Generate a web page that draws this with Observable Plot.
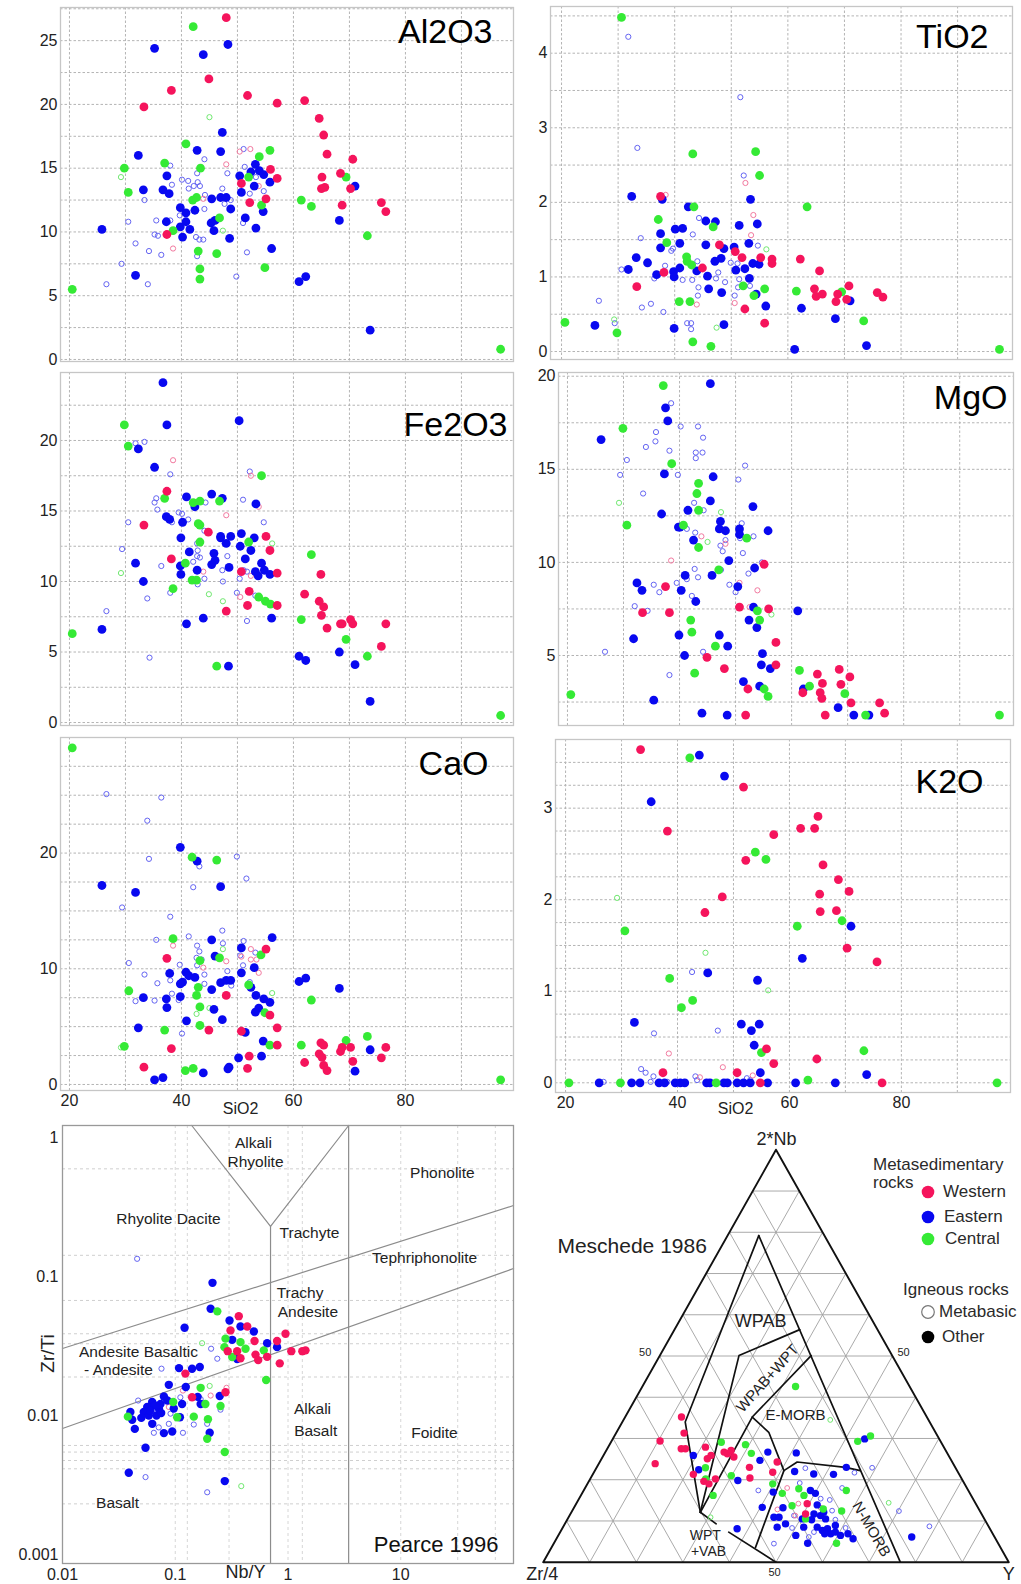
<!DOCTYPE html>
<html><head><meta charset="utf-8">
<script src="https://cdn.jsdelivr.net/npm/d3@7"></script>
<script src="https://cdn.jsdelivr.net/npm/@observablehq/plot@0.6"></script>
<style>
body{margin:0;background:#fff;}
#root{position:relative;width:1021px;height:1584px;background:#fff;overflow:hidden;font-family:"Liberation Sans",Arial,sans-serif;}
.lg{position:absolute;font-size:17px;line-height:20px;color:#2a2a2a;white-space:nowrap;}
</style></head>
<body><div id="root"></div>
<script>
const FONT = '"Liberation Sans", Arial, sans-serif';
const COLORS = {W:"#f5145c", E:"#0808f0", C:"#35ea35"};
const HOLLOW = {W:"#f27aa0", E:"#6464f2", C:"#70e870"};
const GRID = "#b4b4b4";
const SIO2_GRID = [20,30,40,50,60,70,80,90];
const SIO2_TICKS = [20,40,60,80];

// ---------- Al2O3 ----------
const AL_W = [[48.0,26.8],[44.9,22.0],[38.2,21.1],[33.3,19.8],[51.8,20.7],[57.1,20.1],[62.0,20.3],[64.6,18.9],[65.4,17.6],[66.0,16.1],[70.6,15.7],[68.4,14.6],[65.1,14.3],[65.0,13.4],[65.6,13.5],[70.2,13.4],[68.7,12.1],[75.7,12.3],[76.5,11.6],[55.9,14.9],[57.1,14.2],[50.7,13.8],[52.2,12.3],[55.1,12.6],[37.4,9.8]];
const AL_E = [[35.2,24.4],[43.9,23.9],[48.3,24.7],[47.3,17.8],[47.0,16.3],[42.8,16.4],[32.3,16.0],[37.4,14.4],[33.2,13.3],[36.7,13.3],[37.8,13.0],[37.3,10.8],[25.8,10.2],[39.8,11.9],[40.8,11.5],[42.4,11.7],[39.8,10.4],[40.8,10.8],[41.5,10.2],[40.2,9.6],[45.4,12.6],[47.0,12.7],[48.0,12.7],[48.8,11.8],[45.3,10.7],[46.0,10.9],[45.8,10.1],[48.6,9.5],[50.4,14.4],[50.7,13.1],[51.4,11.1],[52.4,14.7],[53.2,15.3],[53.9,14.8],[54.7,14.5],[53.0,13.6],[55.8,13.9],[54.6,11.6],[53.3,10.3],[56.1,8.7],[31.8,6.6],[61.0,6.1],[62.2,6.5],[68.2,10.9],[71.0,13.6],[73.7,2.3]];
const AL_C = [[42.1,26.1],[29.8,15.0],[30.5,13.1],[37.0,15.4],[40.8,16.9],[43.4,15.0],[42.0,12.5],[42.7,12.7],[38.5,10.1],[46.8,11.1],[43.0,8.5],[43.3,7.1],[43.3,6.3],[46.3,8.3],[52.0,14.3],[53.9,15.9],[55.8,16.4],[54.3,12.1],[54.9,7.2],[61.4,12.5],[63.2,12.0],[69.4,14.3],[73.2,9.7],[20.5,5.5],[97.0,0.8]];
const AL_mE = [[26.6,5.9],[29.3,7.5],[31.8,9.1],[30.5,10.8],[33.4,12.5],[34.2,8.5],[34.0,5.9],[36.4,8.2],[35.5,10.9],[35.2,9.8],[35.8,9.7],[38.0,15.2],[38.3,13.7],[38.0,10.9],[40.1,14.1],[41.2,14.0],[42.2,13.6],[41.3,13.4],[42.8,14.6],[42.9,13.9],[43.3,13.6],[44.1,15.7],[44.2,12.9],[44.1,11.8],[39.7,11.3],[42.6,9.6],[43.2,9.4],[43.9,9.4],[42.8,8.1],[47.3,13.4],[47.7,12.2],[48.8,12.5],[48.2,14.6],[51.0,10.7],[51.3,15.1],[51.1,16.5],[52.2,13.0],[53.3,14.3],[54.7,13.2],[51.7,8.4],[49.8,6.5]];
const AL_mW = [[50.4,16.3],[52.3,16.5],[48.0,15.3],[43.9,12.6],[53.8,13.6],[38.5,8.7]];
const AL_mC = [[45.0,19.0],[29.2,14.3],[47.4,10.1]];

// ---------- TiO2 ----------
const TI_W = [[37.5,2.08],[47.9,1.43],[50.7,1.34],[51.9,1.26],[55.2,1.26],[57.2,1.24],[57.2,1.18],[62.2,1.24],[44.9,1.12],[38.1,1.06],[33.3,0.87],[65.6,1.08],[64.7,0.84],[65.0,0.74],[66.1,0.77],[70.8,0.88],[68.8,0.77],[68.5,0.67],[70.4,0.70],[75.8,0.79],[76.8,0.73],[52.4,0.57],[55.9,0.38]];
const TI_E = [[32.4,2.08],[37.8,2.04],[42.4,1.94],[45.5,1.75],[47.2,1.74],[53.4,2.04],[54.6,1.71],[51.4,1.69],[40.1,1.64],[41.4,1.65],[37.5,1.58],[40.9,1.45],[37.5,1.39],[45.5,1.43],[48.7,1.38],[50.5,1.40],[53.1,1.45],[33.2,1.26],[35.2,1.19],[31.8,1.10],[36.8,1.03],[39.8,1.07],[40.9,1.12],[39.9,1.00],[43.9,1.08],[47.1,1.21],[48.2,1.25],[45.8,1.01],[50.8,1.09],[52.4,1.11],[53.8,1.18],[54.9,1.17],[53.2,0.98],[46.0,0.84],[48.3,0.79],[54.4,0.77],[56.1,0.61],[62.4,0.58],[71.0,0.68],[68.4,0.44],[25.9,0.35],[39.9,0.31],[48.7,0.36],[61.2,0.03],[73.9,0.08]];
const TI_C = [[30.6,4.48],[43.2,2.65],[54.3,2.68],[55.0,2.36],[43.4,1.94],[37.1,1.77],[46.8,1.67],[38.6,1.46],[42.1,1.27],[42.2,1.21],[43.0,1.16],[40.8,0.67],[42.7,0.67],[52.1,0.88],[54.0,0.75],[55.9,0.84],[63.4,1.94],[61.5,0.81],[69.5,0.80],[73.4,0.41],[20.6,0.39],[29.8,0.25],[43.2,0.13],[46.4,0.07],[97.4,0.03]];
const TI_mE = [[31.8,4.22],[51.6,3.41],[33.4,2.73],[52.2,2.36],[44.3,1.79],[43.2,1.57],[34.0,1.52],[39.7,1.38],[39.4,1.35],[54.7,1.42],[38.3,1.15],[44.0,1.21],[49.9,1.19],[51.1,1.18],[30.6,1.10],[36.4,0.98],[41.4,0.96],[43.1,0.96],[47.7,1.06],[47.3,0.98],[48.9,0.93],[51.4,0.97],[44.2,0.86],[44.1,0.75],[50.6,0.75],[51.2,0.86],[53.3,0.88],[26.6,0.68],[34.2,0.59],[35.8,0.64],[38.0,0.53],[29.4,0.38],[42.2,0.38],[42.9,0.38],[42.9,0.30]];
const TI_mW = [[38.4,2.10],[52.5,2.26],[53.9,1.83],[53.5,1.56],[43.9,0.63],[50.6,0.65]];
const TI_mC = [[56.2,1.37],[29.3,0.43],[47.4,0.32]];

// ---------- Fe2O3 ----------
const FE_W = [[37.4,16.4],[33.3,14.0],[44.8,13.5],[38.2,11.6],[55.1,13.2],[55.8,12.2],[50.7,10.7],[57.1,10.6],[52.1,9.3],[51.8,8.3],[57.1,8.3],[48.0,7.9],[62.0,9.1],[64.9,10.5],[64.6,8.6],[65.4,8.2],[65.0,7.6],[66.0,6.7],[68.4,7.0],[68.7,7.0],[70.2,7.3],[70.6,7.0],[76.5,7.0],[75.7,5.4]];
const FE_E = [[36.7,24.1],[37.4,21.1],[50.3,21.4],[32.3,19.4],[35.2,18.1],[37.3,14.6],[37.9,14.4],[40.9,16.0],[42.4,15.3],[45.4,16.2],[47.3,15.9],[40.2,14.2],[39.9,13.1],[41.4,12.1],[42.8,10.8],[39.8,11.1],[39.9,10.5],[45.8,12.0],[46.0,11.5],[45.4,11.2],[47.0,13.2],[47.0,13.1],[48.8,13.2],[48.0,12.7],[48.5,11.0],[50.7,13.4],[50.5,12.5],[52.4,12.2],[51.4,11.6],[53.0,13.1],[53.3,15.5],[54.3,11.3],[53.2,10.7],[53.7,10.4],[54.8,10.8],[55.8,10.5],[31.8,11.3],[33.2,10.0],[25.8,6.6],[40.9,7.0],[43.9,7.4],[48.4,4.0],[56.1,7.4],[61.0,4.7],[62.2,4.4],[68.2,5.0],[71.0,4.1],[73.7,1.5]];
const FE_C = [[29.8,21.1],[30.5,19.6],[37.0,15.9],[42.1,15.6],[43.3,15.7],[46.8,15.7],[43.0,14.1],[43.3,14.0],[43.3,12.8],[40.7,11.3],[41.9,10.1],[42.7,10.1],[38.5,9.5],[52.0,12.8],[54.3,17.5],[53.8,8.9],[55.0,8.6],[55.9,8.4],[46.3,4.0],[63.2,11.9],[61.4,7.3],[69.4,5.9],[73.2,4.7],[20.5,6.3],[97.0,0.5]];
const FE_mE = [[31.8,19.8],[33.4,19.9],[38.0,17.6],[35.5,15.9],[35.2,15.6],[35.7,15.1],[30.5,14.2],[38.3,14.2],[39.5,14.9],[40.1,14.8],[41.2,14.4],[44.1,13.6],[42.8,12.7],[42.9,12.2],[42.1,11.4],[42.8,11.8],[43.3,11.7],[44.1,10.2],[42.9,9.8],[44.3,15.6],[51.0,15.8],[52.2,17.8],[48.2,11.8],[47.7,12.7],[47.3,10.8],[47.4,10.0],[50.4,10.2],[51.1,10.8],[51.7,10.7],[54.7,14.2],[29.4,12.3],[36.4,11.1],[38.0,9.2],[33.9,8.8],[26.6,7.9],[49.9,9.2],[53.2,9.0],[51.7,7.2],[34.3,4.6]];
const FE_mW = [[38.5,18.6],[52.4,17.5],[53.8,15.3],[48.0,14.7],[43.9,10.7],[52.4,10.4],[50.5,8.9]];
const FE_mC = [[29.2,10.6],[44.9,9.1],[47.4,8.6],[56.2,12.7]];

// ---------- MgO ----------
const MG_W = [[37.5,8.7],[33.4,7.3],[38.2,7.3],[50.7,7.6],[55.9,7.5],[55.1,9.9],[57.2,5.7],[57.2,4.5],[44.9,4.9],[48.0,4.3],[52.2,3.2],[51.8,1.8],[62.0,3.0],[64.6,4.0],[65.5,3.5],[65.1,3.0],[65.4,2.7],[68.5,4.25],[68.8,3.45],[70.4,3.85],[70.6,2.45],[66.0,1.8],[75.7,2.45],[76.6,1.9]];
const MG_E = [[45.5,19.6],[37.5,18.3],[37.9,17.6],[26.0,16.6],[37.3,14.75],[46.0,14.6],[45.5,13.3],[53.1,13.0],[36.8,12.6],[41.5,12.8],[47.3,12.2],[47.1,11.8],[48.2,11.7],[50.7,11.8],[50.7,11.5],[55.8,11.7],[39.8,11.9],[40.1,11.9],[42.5,11.2],[48.8,10.1],[53.4,9.7],[41.0,9.3],[45.8,9.3],[32.4,8.9],[33.3,8.5],[40.3,8.5],[50.4,8.7],[42.9,7.9],[53.2,7.6],[61.1,7.4],[52.4,6.9],[53.8,6.5],[31.8,5.9],[39.9,6.1],[47.1,6.1],[48.6,5.5],[40.9,5.0],[54.8,5.1],[54.6,4.5],[56.2,4.3],[51.4,3.6],[54.3,3.35],[62.1,3.2],[35.4,2.6],[44.0,1.9],[48.5,1.8],[68.3,2.2],[71.1,1.8],[73.8,1.8]];
const MG_C = [[37.1,19.5],[29.9,17.2],[38.6,15.3],[43.4,14.25],[43.1,13.7],[43.4,12.8],[30.6,12.0],[40.7,12.0],[43.4,10.8],[52.0,11.3],[47.0,9.6],[42.0,6.9],[42.2,6.25],[46.4,5.5],[42.7,4.05],[53.9,7.4],[54.3,6.9],[55.1,3.2],[55.8,2.8],[61.4,4.2],[63.2,3.35],[69.5,2.95],[20.6,2.9],[73.2,1.8],[97.1,1.8]];
const MG_mE = [[38.5,18.55],[40.2,17.3],[43.3,17.3],[35.8,17.0],[35.7,16.5],[44.2,16.7],[34.0,16.2],[38.2,16.0],[42.9,15.9],[44.1,15.9],[42.9,15.6],[30.6,15.5],[51.7,15.2],[29.4,14.7],[39.7,14.7],[50.5,14.45],[33.5,13.7],[42.6,13.2],[44.3,12.8],[51.1,12.1],[41.3,11.8],[42.8,11.6],[50.8,11.3],[53.2,11.4],[47.3,10.9],[47.7,10.6],[48.2,11.2],[51.3,10.5],[54.7,10.0],[42.7,9.65],[43.3,9.2],[47.4,9.6],[39.5,8.9],[41.3,9.1],[35.4,8.8],[36.4,8.4],[48.9,8.8],[50.0,8.4],[42.2,8.2],[52.3,9.4],[32.0,7.65],[34.3,7.4],[26.7,5.2],[44.2,5.2],[38.2,3.95]];
const MG_mW = [[38.5,10.1],[43.9,11.4],[48.2,11.0],[53.9,8.5],[52.5,7.6],[50.7,8.9]];
const MG_mC = [[29.2,13.2],[47.4,12.7],[45.0,11.1],[56.4,7.2]];

// ---------- CaO ----------
const CA_W = [[37.4,10.9],[55.1,11.7],[48.0,7.7],[55.8,6.0],[57.1,4.9],[50.7,4.6],[44.9,4.7],[38.2,3.1],[33.3,1.5],[51.8,1.4],[52.1,2.45],[57.1,3.4],[62.0,1.9],[64.9,3.6],[65.4,3.4],[64.6,2.65],[65.1,2.35],[65.4,1.65],[66.0,1.2],[68.4,2.85],[68.7,3.2],[70.2,3.2],[70.6,2.0],[76.5,3.2],[75.7,2.3]];
const CA_E = [[39.8,20.5],[42.8,19.3],[47.0,17.1],[25.8,17.2],[31.8,16.6],[45.4,12.5],[56.2,12.7],[50.7,11.8],[46.0,11.1],[53.0,10.1],[50.7,9.65],[37.9,9.6],[40.8,9.7],[41.3,9.4],[42.4,9.25],[40.2,8.85],[39.8,8.7],[47.0,8.8],[48.0,9.0],[48.8,9.0],[45.4,8.2],[52.4,8.4],[53.3,7.7],[54.7,7.4],[55.8,7.1],[33.2,7.5],[37.3,7.4],[37.4,6.65],[39.8,7.6],[45.8,6.5],[53.8,6.6],[53.2,6.25],[47.3,5.6],[40.9,5.5],[32.3,4.9],[51.4,4.5],[54.6,3.75],[54.3,2.45],[50.2,2.3],[48.5,1.5],[48.3,1.35],[43.9,1.0],[35.2,0.4],[36.7,0.6],[61.0,8.9],[62.2,9.2],[68.2,8.3],[73.7,3.0],[71.0,1.15]];
const CA_C = [[20.5,29.1],[41.9,19.65],[46.3,19.4],[38.5,12.6],[46.8,10.95],[43.3,10.7],[43.0,8.4],[42.7,7.7],[43.3,6.7],[43.3,5.1],[30.6,8.1],[37.0,4.7],[29.8,3.3],[40.7,1.2],[42.1,1.4],[52.0,8.6],[54.2,11.2],[54.9,6.2],[55.8,3.4],[61.4,3.4],[63.2,7.3],[69.4,3.8],[73.2,4.15],[97.0,0.4]];
const CA_mE = [[26.6,25.1],[36.4,24.8],[33.9,22.8],[34.2,19.5],[43.2,18.85],[49.9,19.7],[51.6,17.8],[42.1,17.05],[29.4,15.3],[38.0,14.5],[35.5,12.5],[41.3,12.8],[47.3,13.3],[47.4,12.2],[42.8,12.0],[43.2,11.5],[42.7,10.95],[43.6,10.8],[42.8,10.3],[51.1,12.4],[50.5,11.15],[51.0,10.3],[53.2,11.4],[39.7,10.35],[30.6,10.5],[33.4,9.5],[35.7,8.75],[38.0,9.0],[44.1,9.5],[44.1,8.7],[48.2,9.8],[48.9,8.55],[52.2,8.85],[38.3,7.85],[39.5,7.3],[31.8,7.2],[35.2,7.25],[40.1,4.4]];
const CA_mW = [[38.5,12.0],[52.4,11.7],[43.9,10.1],[48.0,10.65],[50.7,11.05],[52.4,10.8],[53.4,10.8],[53.8,9.65]];
const CA_mC = [[29.2,3.2],[42.7,6.1],[45.0,6.6],[47.4,11.7],[56.2,7.9]];

// ---------- K2O ----------
const K_W = [[33.4,3.64],[38.2,2.75],[51.8,3.23],[52.2,2.43],[57.2,2.71],[48.0,2.03],[44.9,1.86],[62.0,2.78],[64.5,2.78],[65.1,2.91],[66.0,2.38],[68.75,2.22],[70.65,2.09],[65.4,2.06],[65.5,1.87],[68.4,1.88],[70.3,1.47],[75.65,1.32],[55.9,0.37],[57.2,0.21],[64.9,0.26],[50.65,0.11],[37.4,0.11],[76.55,0.0],[54.8,0.0]];
const K_E = [[43.9,3.58],[48.4,3.35],[35.3,3.07],[71.0,1.71],[62.3,1.36],[45.4,1.2],[54.3,1.12],[32.3,0.66],[51.4,0.64],[54.6,0.64],[53.2,0.57],[53.7,0.41],[54.8,0.11],[73.8,0.09],[26.0,0],[31.8,0],[33.3,0],[36.7,0],[37.7,0],[39.6,0],[40.5,0],[41.3,0],[45.2,0],[45.8,0],[48.3,0],[48.9,0],[50.65,0],[51.8,0],[53.0,0],[56.1,0],[61.1,0],[68.2,0]];
const K_C = [[42.2,3.55],[53.9,2.52],[55.8,2.44],[30.6,1.66],[61.4,1.71],[69.4,1.77],[38.6,1.14],[42.7,0.9],[40.7,0.82],[55.0,0.33],[73.3,0.35],[20.6,0.0],[29.8,0.0],[63.3,0.03],[46.9,0.0],[97.1,0.0]];
const K_mE = [[35.8,0.54],[47.2,0.57],[42.6,1.21],[33.5,0.15],[34.3,0.11],[35.7,0.07],[43.2,0.07],[35.2,0.01],[26.8,0.01],[43.5,0.03],[53.0,0.03],[52.4,0.05],[38.2,0.01]];
const K_mW = [[38.45,0.32],[48.1,0.17],[53.45,0.08],[44.0,0.06]];
const K_mC = [[29.2,2.02],[45.0,1.42],[56.2,1.01]];

// ---------- Pearce 1996 (Nb/Y, Zr/Ti) ----------
const PE_E = [[0.214,0.090],[0.206,0.0586],[0.121,0.0428],[0.303,0.0482],[0.379,0.0436],[0.498,0.0402],[0.320,0.035],[0.653,0.0331],[0.80,0.031],[0.354,0.0255],[0.108,0.0219],[0.141,0.0217],[0.165,0.0223],[0.0877,0.0166],[0.124,0.016],[0.0793,0.0137],[0.074,0.0121],[0.0624,0.0125],[0.0564,0.0115],[0.0526,0.0106],[0.0583,0.010],[0.0682,0.010],[0.0716,0.0112],[0.040,0.0106],[0.0415,0.0093],[0.0438,0.0080],[0.0625,0.0087],[0.0793,0.00746],[0.094,0.00767],[0.110,0.0097],[0.115,0.0121],[0.097,0.0112],[0.158,0.0136],[0.168,0.0121],[0.248,0.0138],[0.202,0.0075],[0.0545,0.00585],[0.0387,0.00387],[0.275,0.00337],[0.066,0.0118],[0.060,0.0108],[0.075,0.0104],[0.085,0.0128],[0.050,0.0096]];
const PE_W = [[0.366,0.0518],[0.309,0.0409],[0.435,0.0436],[0.505,0.0343],[0.292,0.029],[0.354,0.029],[0.379,0.0258],[0.515,0.0274],[0.544,0.025],[0.653,0.0264],[0.80,0.0343],[0.95,0.0387],[1.07,0.029],[1.34,0.029],[1.43,0.0294],[0.845,0.0237],[0.123,0.020],[0.141,0.0135],[0.279,0.0147]];
const PE_C = [[0.236,0.0561],[0.279,0.0357],[0.379,0.0337],[0.420,0.0302],[0.273,0.031],[0.61,0.0294],[0.320,0.0263],[0.64,0.018],[0.168,0.0158],[0.096,0.0125],[0.185,0.0121],[0.252,0.0117],[0.146,0.0098],[0.104,0.0097],[0.038,0.0098],[0.195,0.0094],[0.192,0.0068],[0.275,0.00545]];
const PE_mE = [[0.0459,0.134],[0.208,0.0302],[0.236,0.0256],[0.0755,0.0217],[0.0469,0.0128],[0.0646,0.0112],[0.0908,0.0103],[0.0714,0.0082],[0.0877,0.0087],[0.0646,0.0075],[0.117,0.0075],[0.146,0.0086],[0.192,0.0087],[0.252,0.011],[0.111,0.0135],[0.168,0.0131],[0.0519,0.0098],[0.0545,0.0036],[0.192,0.0028]];
const PE_mW = [[0.285,0.0158],[0.206,0.0139],[0.117,0.0151],[0.0877,0.0115]];
const PE_mC = [[0.173,0.0331],[0.202,0.0163],[0.385,0.0031]];
const PE_BOUNDS = [
  {id:"upper", pts:[[0.01,0.0303],[100,0.324]]},
  {id:"lower", pts:[[0.01,0.00806],[100,0.114]]},
  {id:"vee", pts:[[0.14,1.22],[0.7,0.229],[3.45,1.22]]},
  {id:"alk", pts:[[0.7,0.229],[0.7,0.00086]]},
  {id:"foid", pts:[[3.45,1.22],[3.45,0.00086]]}
];
const PE_GRID_Y = [0.595,0.142,0.0672,0.0387,0.0328,0.0189,0.00608,0.00545,0.00474,0.00413,0.00231];
const PE_GRID_X = [0.1,0.128,0.3,1,1.34,10,32,69];
const PE_LABELS = [
  ["Alkali",0.494,0.905],["Rhyolite",0.515,0.661],["Phonolite",23.4,0.551],["Rhyolite Dacite",0.0871,0.257],
  ["Trachyte",1.55,0.204],["Tephriphonolite",16.3,0.135],["Trachy",1.28,0.0755],["Andesite",1.5,0.0551],
  ["Andesite Basaltic",0.0472,0.0284],["- Andesite",0.0314,0.0211],["Alkali",1.65,0.0112],["Basalt",1.76,0.00767],
  ["Foidite",19.9,0.00743],["Basalt",0.0308,0.00233]
];

// ---------- Meschede 1986 ternary: [2*Nb %, Y %] ----------
const TE_W = [[35.2,12.1],[31.3,14.6],[29.4,10.4],[27.5,15.9],[27.5,16.8],[23.9,12.1],[21.3,21.6],[19.6,24.7],[19.0,26.1],[20.2,26.9],[27.9,20.9],[25.1,22.7],[25.9,23.1],[26.3,26.4],[27.1,26.8],[26.7,25.5],[25.5,28.2],[23.0,32.8],[20.4,34.2],[21.8,38.4],[24.3,38.1],[14.2,49.6],[11.7,50.5]];
const TE_E = [[25.9,19.3],[22.4,22.2],[19.8,31.9],[24.7,34.2],[26.7,34.9],[26.5,41.1],[22.0,43.0],[21.4,47.4],[21.3,51.7],[23.0,53.6],[29.9,54.1],[17.0,40.9],[13.2,44.9],[13.3,40.4],[10.9,44.1],[10.9,45.2],[8.5,46.0],[9.3,47.4],[6.5,51.0],[4.6,54.5],[8.1,37.6],[17.4,48.7],[16.7,50.1],[11.7,52.3],[11.3,53.9],[10.5,55.4],[8.5,54.6],[7.7,56.1],[8.1,57.0],[6.9,58.3],[7.3,59.1],[6.9,57.0],[8.9,58.3],[8.5,51.7],[10.5,50.4],[10.3,52.5],[6.9,62.0],[5.7,63.7],[6.5,60.6],[6.1,76.1],[13.9,51.9],[12.1,54.2]];
const TE_C = [[42.6,32.9],[30.6,55.0],[29.3,52.9],[29.1,23.7],[28.5,29.2],[26.4,31.5],[22.9,23.4],[20.2,24.8],[21.0,29.9],[16.2,28.4],[19.0,39.8],[16.7,43.0],[17.8,46.0],[16.2,47.9],[13.7,46.6],[12.9,53.7],[12.4,57.9],[17.4,56.4],[10.5,51.1],[4.6,60.7]];
const TE_mE = [[22.8,44.9],[21.7,56.0],[22.9,59.2],[17.4,37.5],[19.2,45.5],[15.4,51.9],[15.1,54.0],[18.0,55.2],[4.5,47.3],[8.3,49.3],[6.1,54.0],[12.4,70.2],[8.7,78.6],[11.3,48.2],[10.3,57.6],[8.3,60.8],[7.3,54.5],[12.5,55.8]];
const TE_mW = [[18.0,43.4],[12.8,43.9],[14.2,47.7],[13.2,53.0],[11.3,48.5]];
const TE_mC = [[34.5,44.4],[14.4,67.0],[10.9,30.5]];
const TE_BOUNDS = [
  {id:"L1", pts:[[79.2,6.7],[34.0,13.5],[12.1,27.7]]},
  {id:"L2", pts:[[79.2,6.7],[0,76.7]]},
  {id:"L3", pts:[[56.4,26.9],[50.1,17.0],[12.1,27.7]]},
  {id:"L4", pts:[[50.1,32.5],[35.2,27.3],[12.1,27.7]]},
  {id:"L5", pts:[[35.2,27.3],[31.5,32.7],[22.2,40.6],[3.6,43.8]]},
  {id:"L6", pts:[[22.2,40.6],[24.3,42.4],[23.0,53.4],[22.2,57.0]]},
  {id:"L7a", pts:[[12.1,27.7],[9.3,32.5]]},
  {id:"L7b", pts:[[7.3,36.2],[0,50]]}
];
const TE_GRID = [10,20,30,40,50,60,70,80,90];
// annotation positions in projected units (x across base, y = height fraction)
const TE_NOTES = [
  {t:"WPAB", x:0.467, y:0.584, s:18, r:0},
  {t:"WPAB+WPT", x:0.482, y:0.446, s:15, r:-48},
  {t:"E-MORB", x:0.542, y:0.356, s:15, r:0},
  {t:"N-MORB", x:0.705, y:0.080, s:15, r:60},
  {t:"WPT", x:0.348, y:0.065, s:14, r:0},
  {t:"+VAB", x:0.355, y:0.025, s:14, r:0},
  {t:"2*Nb", x:0.501, y:1.025, s:18, r:0},
  {t:"Zr/4", x:-0.002, y:-0.028, s:18, r:0},
  {t:"Y", x:1.0, y:-0.028, s:18, r:0},
  {t:"50", x:0.219, y:0.508, s:11, r:0},
  {t:"50", x:0.774, y:0.508, s:11, r:0},
  {t:"50", x:0.497, y:-0.026, s:11, r:0},
  {t:"Meschede 1986", x:0.191, y:0.765, s:21, r:0}
];

const root = document.getElementById("root");
function place(svg, left, top){ svg.style.position="absolute"; svg.style.left=left+"px"; svg.style.top=top+"px"; svg.style.maxWidth="none"; root.appendChild(svg); }
const baseStyle = {fontFamily: FONT, fontSize: "16px", color: "#222", background: "transparent", overflow: "visible"};

function dotMarks(sets, rF, rH, xf, yf) {
  const m = [];
  for (const g of ["E","W","C"]) m.push(Plot.dot(sets["m"+g], {x: xf, y: yf, r: rH, stroke: HOLLOW[g], strokeWidth: 1, fill: "none"}));
  for (const g of ["E","C","W"]) m.push(Plot.dot(sets[g], {x: xf, y: yf, r: rF, fill: COLORS[g], stroke: "none"}));
  return m;
}

function harker(c) {
  const yGrid = d3.range(c.g0, c.yd[1], c.gs);
  const svg = Plot.plot({
    width: c.w, height: c.h,
    marginTop: c.m[0], marginRight: c.m[1], marginBottom: c.m[2], marginLeft: c.m[3],
    style: baseStyle,
    x: c.showX ? {domain: c.xd, ticks: SIO2_TICKS, tickSize: 0, tickPadding: 4, tickFormat: d => String(d), label: null}
               : {domain: c.xd, axis: null},
    y: {domain: c.yd, ticks: c.yt, tickSize: 0, tickPadding: 3, tickFormat: d => String(d), label: null},
    marks: [
      Plot.ruleX(SIO2_GRID, {stroke: GRID, strokeDasharray: "2.5,2", strokeWidth: 1}),
      Plot.ruleY(yGrid, {stroke: GRID, strokeDasharray: "2.5,2", strokeWidth: 1}),
      Plot.frame({stroke: "#c6c6c6", strokeWidth: 1.3}),
      ...dotMarks(c.data, 4.4, 2.6, d => d[0], d => d[1]),
      Plot.text([c.name], {text: d => d, frameAnchor: "top-right", dx: c.nd[0], dy: c.nd[1], fontSize: 34, textAnchor: "end", lineAnchor: "middle", fill: "#000"}),
      c.showX ? Plot.text(["SiO2"], {text: d => d, frameAnchor: "bottom", dx: c.sd[0], dy: c.sd[1], fontSize: 16, textAnchor: "middle", lineAnchor: "middle", fill: "#222"}) : null
    ]
  });
  place(svg, c.left, c.top);
}

harker({left:0, top:0, w:520, h:366, m:[7,7,5,60], xd:[18.4,99.3], yd:[-0.16,27.6], yt:[0,5,10,15,20,25], g0:0, gs:2.5,
  name:"Al2O3", nd:[-21,25], data:{W:AL_W,E:AL_E,C:AL_C,mW:AL_mW,mE:AL_mE,mC:AL_mC}});
harker({left:510, top:0, w:511, h:366, m:[6,9,7,40], xd:[18.05,99.7], yd:[-0.107,4.626], yt:[0,1,2,3,4], g0:0, gs:0.5,
  name:"TiO2", nd:[-24,31], data:{W:TI_W,E:TI_E,C:TI_C,mW:TI_mW,mE:TI_mE,mC:TI_mC}});
harker({left:0, top:366, w:520, h:362, m:[6,7,3,60], xd:[18.4,99.3], yd:[-0.21,24.82], yt:[0,5,10,15,20], g0:0, gs:2.5,
  name:"Fe2O3", nd:[-6,53], data:{W:FE_W,E:FE_E,C:FE_C,mW:FE_mW,mE:FE_mE,mC:FE_mC}});
harker({left:510, top:366, w:511, h:362, m:[6,8,3,48], xd:[18.4,99.6], yd:[1.24,20.2], yt:[5,10,15,20], g0:2.5, gs:2.5,
  name:"MgO", nd:[-6,26], data:{W:MG_W,E:MG_E,C:MG_C,mW:MG_mW,mE:MG_mE,mC:MG_mC}});
harker({left:0, top:728, w:520, h:392, m:[9,7,30,60], xd:[18.4,99.3], yd:[-0.52,29.99], yt:[0,10,20], g0:0, gs:2.5,
  name:"CaO", nd:[-25,27], showX:true, sd:[-46.5,18], data:{W:CA_W,E:CA_E,C:CA_C,mW:CA_mW,mE:CA_mE,mC:CA_mC}});
harker({left:510, top:728, w:511, h:392, m:[11,11,28,45], xd:[18.2,99.5], yd:[-0.106,3.75], yt:[0,1,2,3], g0:0, gs:0.25,
  name:"K2O", nd:[-27,43], showX:true, sd:[-47.5,16], data:{W:K_W,E:K_E,C:K_C,mW:K_mW,mE:K_mE,mC:K_mC}});

// ---------- Pearce panel ----------
{
  const boundRows = PE_BOUNDS.flatMap(b => b.pts.map(p => ({id: b.id, x: p[0], y: p[1]})));
  const svg = Plot.plot({
    width: 520, height: 464, marginTop: 5, marginRight: 7, marginBottom: 21, marginLeft: 62,
    style: baseStyle,
    x: {type: "log", domain: [0.01, 100], ticks: [0.01, 0.1, 1, 10], tickFormat: d => String(d), tickSize: 0, tickPadding: 5, label: null},
    y: {type: "log", domain: [0.00086, 1.22], ticks: [0.001, 0.01, 0.1, 1], tickFormat: d => String(d), tickSize: 0, tickPadding: 4, label: null},
    marks: [
      Plot.ruleY(PE_GRID_Y, {stroke: "#cfcfcf", strokeDasharray: "3,3", strokeWidth: 1}),
      Plot.ruleX(PE_GRID_X, {stroke: "#d6d6d6", strokeDasharray: "3,3", strokeWidth: 1}),
      Plot.line(boundRows, {x: "x", y: "y", z: "id", stroke: "#8c8c8c", strokeWidth: 1.2}),
      Plot.frame({stroke: "#999", strokeWidth: 1.3}),
      ...dotMarks({W:PE_W,E:PE_E,C:PE_C,mW:PE_mW,mE:PE_mE,mC:PE_mC}, 4.2, 2.6, d => d[0], d => d[1]),
      Plot.text(PE_LABELS, {x: d => d[1], y: d => d[2], text: d => d[0], fontSize: 15.5, fill: "#222"}),
      Plot.text(["Pearce 1996"], {text: d => d, frameAnchor: "bottom-right", dx: -15, dy: -19, fontSize: 22, textAnchor: "end", lineAnchor: "middle", fill: "#111"}),
      Plot.text(["Nb/Y"], {text: d => d, frameAnchor: "bottom-left", dx: 183, dy: 9, fontSize: 18, textAnchor: "middle", lineAnchor: "middle", fill: "#222"}),
      Plot.text(["Zr/Ti"], {text: d => d, frameAnchor: "left", dx: -15, dy: 9, rotate: -90, fontSize: 19, textAnchor: "middle", lineAnchor: "middle", fill: "#222"})
    ]
  });
  place(svg, 0, 1120);
}

// ---------- Meschede ternary ----------
{
  const proj = (a, c) => ({x: (c + a / 2) / 100, y: a / 100});
  const gridSegs = TE_GRID.flatMap(k => [
    [proj(k, 0), proj(k, 100 - k)],
    [proj(0, k), proj(100 - k, k)],
    [proj(0, 100 - k), proj(100 - k, 0)]
  ]).map(([p, q]) => ({x1: p.x, y1: p.y, x2: q.x, y2: q.y}));
  const outline = [proj(100, 0), proj(0, 0), proj(0, 100), proj(100, 0)];
  const bRows = TE_BOUNDS.flatMap(b => b.pts.map(p => ({id: b.id, ...proj(p[0], p[1])})));
  const tx = d => (d[1] + d[0] / 2) / 100, ty = d => d[0] / 100;
  const svg = Plot.plot({
    width: 501, height: 464, marginTop: 29.3, marginRight: 12.7, marginBottom: 22.3, marginLeft: 22.7,
    style: baseStyle,
    x: {domain: [0, 1], axis: null},
    y: {domain: [0, 1], axis: null},
    marks: [
      Plot.link(gridSegs, {x1: "x1", y1: "y1", x2: "x2", y2: "y2", stroke: "#a0a0a0", strokeWidth: 0.9}),
      Plot.line(bRows, {x: "x", y: "y", z: "id", stroke: "#111", strokeWidth: 1.7}),
      Plot.line(outline, {x: "x", y: "y", stroke: "#111", strokeWidth: 1.9}),
      ...dotMarks({W:TE_W,E:TE_E,C:TE_C,mW:TE_mW,mE:TE_mE,mC:TE_mC}, 3.7, 2.4, tx, ty),
      Plot.text(TE_NOTES, {x: "x", y: "y", text: "t", fontSize: d => d.s, rotate: d => d.r, fill: "#222", lineAnchor: "middle"})
    ]
  });
  place(svg, 520, 1120);
}

// ---------- legend ----------
{
  const items = [
    ["Metasedimentary", 873, 1155], ["rocks", 873, 1173], ["Western", 943, 1182], ["Eastern", 944, 1207],
    ["Central", 945, 1229], ["Igneous rocks", 903, 1280], ["Metabasic", 939, 1302], ["Other", 942, 1327]
  ];
  for (const [t, l, tp] of items) {
    const d = document.createElement("div");
    d.className = "lg"; d.textContent = t; d.style.left = l + "px"; d.style.top = tp + "px";
    root.appendChild(d);
  }
  const ns = "http://www.w3.org/2000/svg";
  const s = document.createElementNS(ns, "svg");
  s.setAttribute("width", 30); s.setAttribute("height", 175);
  s.style.position = "absolute"; s.style.left = "915px"; s.style.top = "1180px";
  const circ = [[12, COLORS.W, "none"], [37, COLORS.E, "none"], [59, COLORS.C, "none"], [132, "#fff", "#777"], [157, "#000", "none"]];
  for (const [cy, f, st] of circ) {
    const c = document.createElementNS(ns, "circle");
    c.setAttribute("cx", 13); c.setAttribute("cy", cy); c.setAttribute("r", 6.3);
    c.setAttribute("fill", f); c.setAttribute("stroke", st); c.setAttribute("stroke-width", 1.2);
    s.appendChild(c);
  }
  root.appendChild(s);
}
</script>
</body></html>
